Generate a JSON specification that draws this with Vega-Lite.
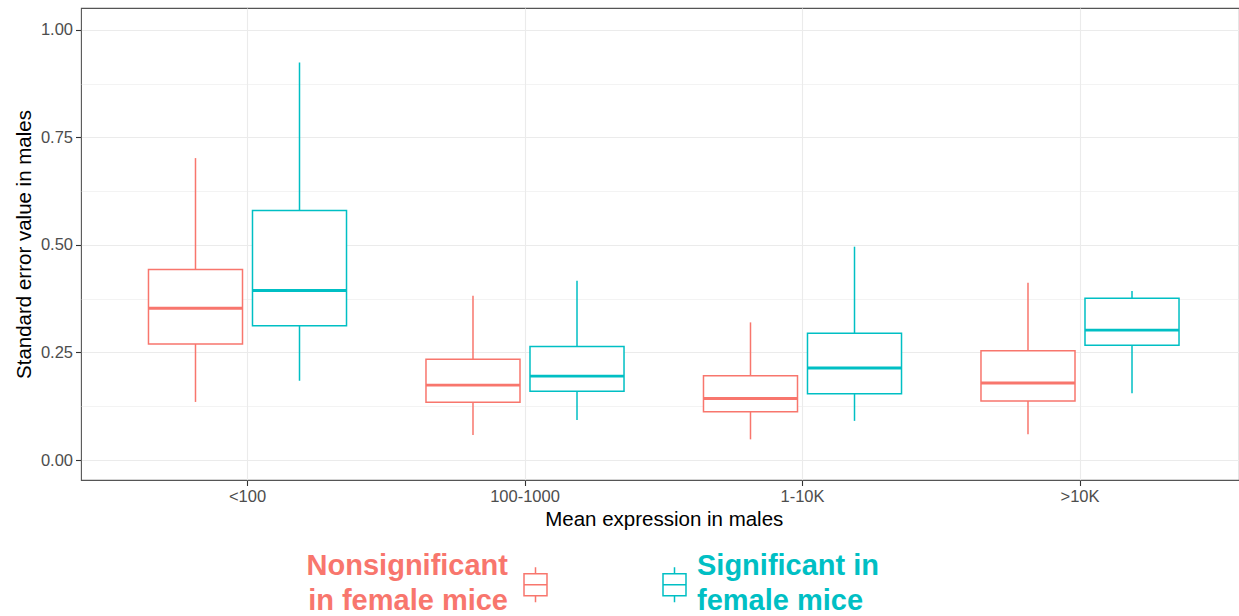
{
  "$schema": "https://vega.github.io/schema/vega-lite/v6.json",
  "width": 1158,
  "height": 472,
  "autosize": {"type": "none"},
  "padding": {"left": 81, "top": 8, "right": 0, "bottom": 136},
  "background": "white",
  "config": {
    "font": "Liberation Sans",
    "view": {"stroke": "#555555", "strokeWidth": 1.1}
  },
  "data": {
    "values": [
      {"cat": "<100", "group": "Nonsignificant in female mice", "lo": 0.135, "q1": 0.270, "med": 0.353, "q3": 0.443, "hi": 0.702},
      {"cat": "<100", "group": "Significant in female mice", "lo": 0.184, "q1": 0.312, "med": 0.394, "q3": 0.580, "hi": 0.924},
      {"cat": "100-1000", "group": "Nonsignificant in female mice", "lo": 0.058, "q1": 0.134, "med": 0.174, "q3": 0.234, "hi": 0.382},
      {"cat": "100-1000", "group": "Significant in female mice", "lo": 0.093, "q1": 0.160, "med": 0.195, "q3": 0.264, "hi": 0.417},
      {"cat": "1-10K", "group": "Nonsignificant in female mice", "lo": 0.048, "q1": 0.112, "med": 0.143, "q3": 0.196, "hi": 0.320},
      {"cat": "1-10K", "group": "Significant in female mice", "lo": 0.091, "q1": 0.154, "med": 0.214, "q3": 0.295, "hi": 0.496},
      {"cat": ">10K", "group": "Nonsignificant in female mice", "lo": 0.060, "q1": 0.137, "med": 0.179, "q3": 0.254, "hi": 0.412},
      {"cat": ">10K", "group": "Significant in female mice", "lo": 0.155, "q1": 0.267, "med": 0.302, "q3": 0.376, "hi": 0.393}
    ]
  },
  "encoding": {
    "x": {
      "field": "cat", "type": "nominal", "sort": ["<100", "100-1000", "1-10K", ">10K"],
      "scale": {"type": "band", "paddingInner": 0, "paddingOuter": 0.1, "range": [0, 1165.5]},
      "axis": {
        "title": "Mean expression in males", "titleFontSize": 20.5, "titleFontWeight": "normal", "titleColor": "#000000", "titlePadding": 4,
        "labelAngle": 0, "labelFontSize": 16.5, "labelColor": "#4d4d4d", "labelPadding": 3,
        "tickSize": 5.5, "tickColor": "#333333", "tickWidth": 1.1,
        "grid": true, "gridColor": "#ebebeb", "gridWidth": 1.1, "bandPosition": 0.5, "domain": false
      }
    },
    "xOffset": {
      "field": "group", "type": "nominal",
      "scale": {"paddingInner": 0.096, "paddingOuter": 0.382}
    },
    "color": {
      "field": "group", "type": "nominal",
      "scale": {"domain": ["Nonsignificant in female mice", "Significant in female mice"], "range": ["#F8766D", "#00BFC4"]},
      "legend": {
        "orient": "none", "legendX": 436, "legendY": 558, "direction": "horizontal", "title": null,
        "labelExpr": "datum.value == 'Nonsignificant in female mice' ? ['Nonsignificant', 'in female mice'] : ['Significant in', 'female mice']",
        "labelFontSize": 29, "labelFontWeight": "bold", "labelLimit": 500, "labelOffset": 4,
        "columnPadding": 106,
        "symbolType": "M-0.657,-0.63H0.657V0.63H-0.657Z M-0.657,0H0.657 M0,-0.63V-1 M0,0.63V1",
        "symbolSize": 1225, "symbolStrokeWidth": 1.5, "symbolFillColor": "white", "symbolOpacity": 1,
        "encode": {
          "symbols": {"update": {"fill": {"value": "white"}, "stroke": {"scale": "color", "field": "value"}, "strokeWidth": {"value": 1.5}, "opacity": {"value": 1}}},
          "labels": {"update": {
            "fill": {"scale": "color", "field": "value"},
            "align": {"signal": "datum.value == 'Nonsignificant in female mice' ? 'right' : 'left'"},
            "dx": {"signal": "datum.value == 'Nonsignificant in female mice' ? -50 : 0"},
            "dy": {"value": -19},
            "lineHeight": {"value": 35}
          }}
        }
      }
    }
  },
  "layer": [
    {
      "mark": {"type": "rule", "strokeWidth": 1.5},
      "encoding": {
        "y": {
          "field": "lo", "type": "quantitative",
          "scale": {"domain": [-0.0465, 1.051], "nice": false, "zero": false},
          "axis": {
            "title": "Standard error value in males", "titleFontSize": 20.5, "titleFontWeight": "normal", "titleColor": "#000000", "titlePadding": 6,
            "values": [0, 0.25, 0.5, 0.75, 1], "format": ".2f",
            "labelFontSize": 16.5, "labelColor": "#4d4d4d", "labelPadding": 3,
            "tickSize": 5.5, "tickColor": "#333333", "tickWidth": 1.1,
            "grid": true, "gridColor": "#ebebeb", "gridWidth": 1.1, "domain": false
          }
        },
        "y2": {"field": "hi"}
      }
    },
    {
      "mark": {"type": "bar", "filled": false, "fill": "white", "strokeWidth": 1.5, "opacity": 1},
      "encoding": {
        "y": {
          "field": "q1", "type": "quantitative",
          "axis": {
            "title": null, "orient": "left", "values": [0.125, 0.375, 0.625, 0.875],
            "labels": false, "ticks": false, "domain": false,
            "grid": true, "gridColor": "#ebebeb", "gridWidth": 0.6
          }
        },
        "y2": {"field": "q3"}
      }
    },
    {
      "mark": {"type": "bar", "filled": false, "fill": "white", "strokeWidth": 2.9, "opacity": 1},
      "encoding": {
        "y": {"field": "med", "type": "quantitative", "axis": null},
        "y2": {"field": "med"}
      }
    }
  ],
  "resolve": {"axis": {"y": "independent"}}
}
